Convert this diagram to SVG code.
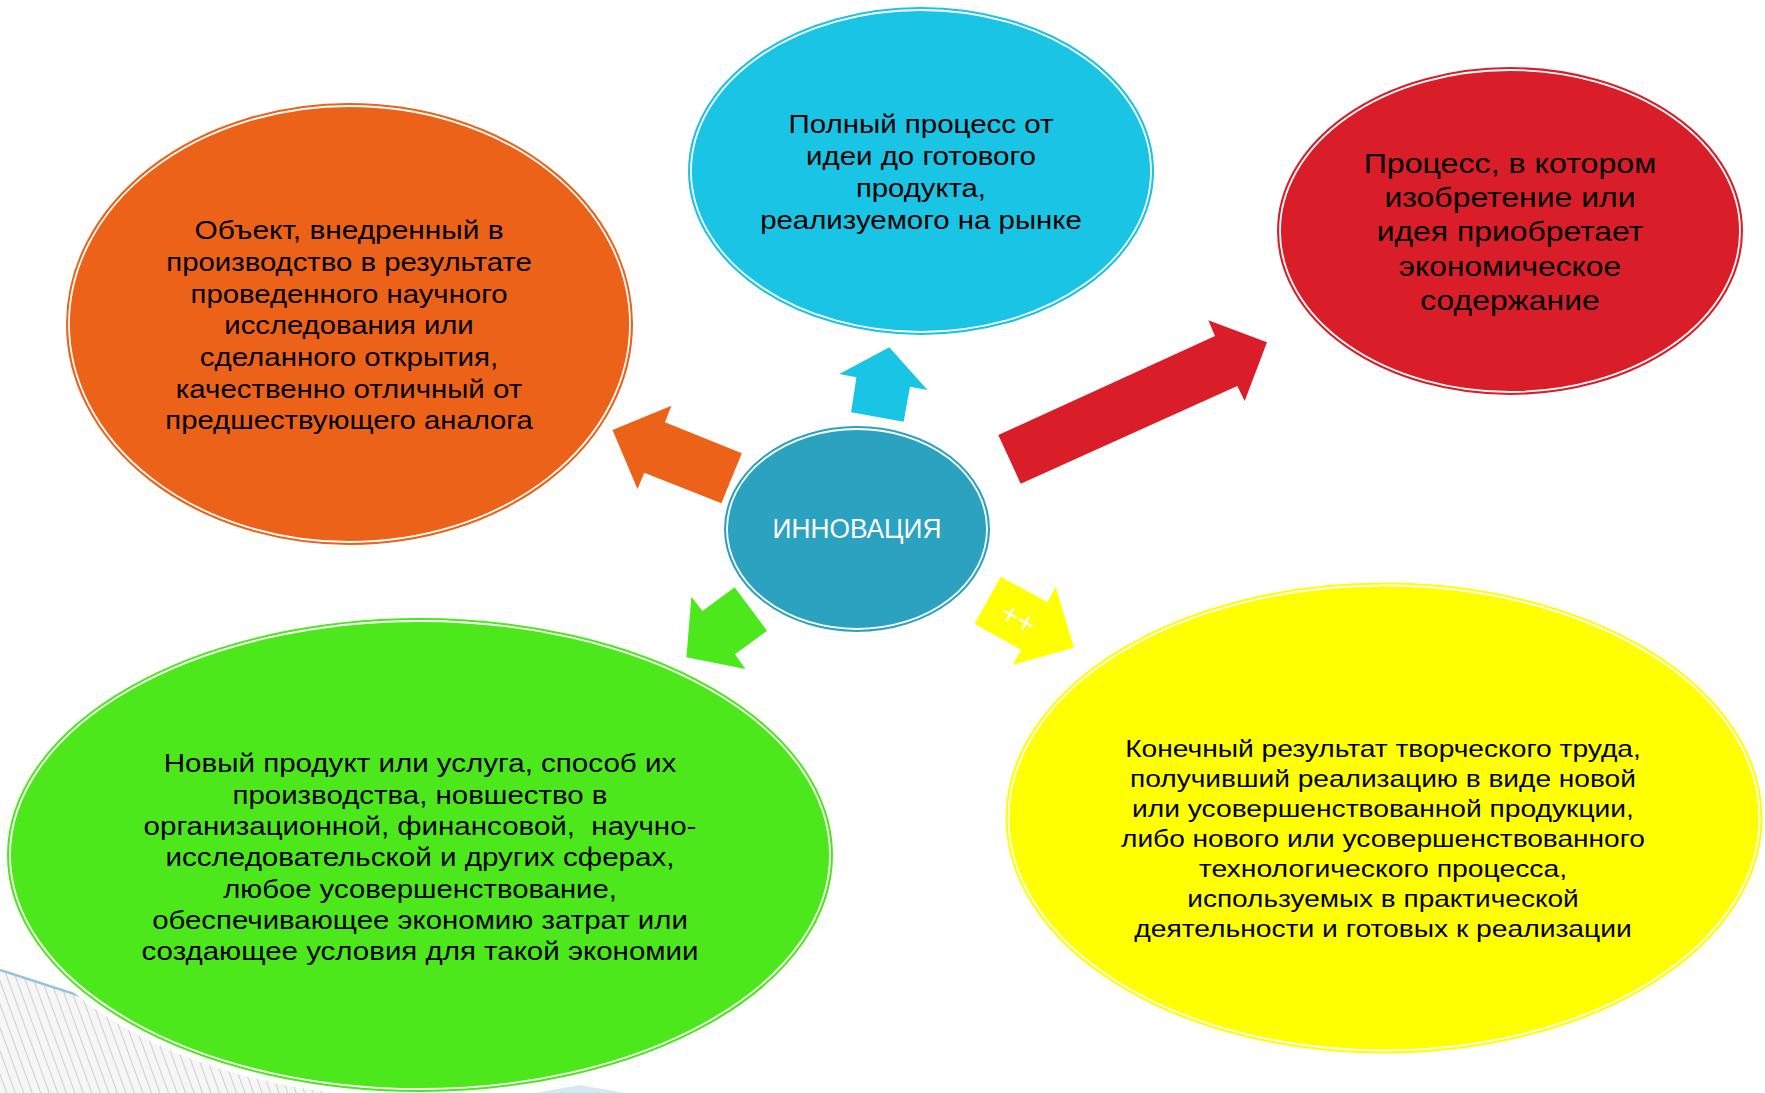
<svg xmlns="http://www.w3.org/2000/svg" width="1765" height="1093" viewBox="0 0 1765 1093">
  <defs>
    <pattern id="hatch" width="8" height="8" patternUnits="userSpaceOnUse" patternTransform="rotate(-20)">
      <rect width="8" height="8" fill="#f6f6f6"/>
      <line x1="0" y1="0" x2="0" y2="8" stroke="#b9b9b9" stroke-width="1.3"/>
    </pattern>
  </defs>
  <style>
    .lbl { font-family: "Liberation Sans", Arial, sans-serif; fill: #000; text-anchor: middle; }
    .ring { fill: none; stroke: #fff; stroke-width: 1.8; }
    .orange { fill: #EC6219; stroke: #EC6219; stroke-width: 6; }
    .sky { fill: #1AC4E4; stroke: #1AC4E4; stroke-width: 6; }
    .red { fill: #D91E29; stroke: #D91E29; stroke-width: 6; }
    .core { fill: #2BA2C0; stroke: #2BA2C0; stroke-width: 6; }
    .green { fill: #4DE81C; stroke: #4DE81C; stroke-width: 6; }
    .yellow { fill: #FFFF00; stroke: #FFFF00; stroke-width: 6; }
  </style>

  <rect width="1765" height="1093" fill="#ffffff"/>

  <!-- slide background ornaments -->
  <g id="background">
    <polygon points="0,970 380,1093 0,1093" fill="url(#hatch)"/>
    <line x1="0" y1="970" x2="380" y2="1093" stroke="#93C4DC" stroke-width="2.5"/>
    <polygon points="535,1093 580,1085 625,1093" fill="#D6E9F2"/>
  </g>

  <!-- arrows from the centre -->
  <g id="connectors">
    <polygon points="612.5,430 671.4,405.7 665,422.3 741.8,453.3 721.4,503.3 644.3,472.7 637.5,489" fill="#EC6219"/>
    <polygon points="889.3,347.3 839.3,374 856.4,377.3 851.1,412.3 903.6,421.7 910,386.7 927.5,390" fill="#1AC4E4"/>
    <polygon points="998.3,435 1020.7,483.7 1237.3,386 1244.7,401 1267,342.3 1208.3,320.3 1215,336" fill="#D91E29"/>
    <polygon points="686.4,657.3 691.4,596.7 702.5,611 734.6,587.3 767.1,630.7 735,654.3 745.4,669" fill="#4DE81C"/>
    <polygon points="1000.7,576.7 974.6,624 1021.4,650 1012.5,665 1073.9,647.7 1055.7,586.7 1047.5,602.3" fill="#FFFF00"/>
    <text x="1018.5" y="628.5" transform="rotate(29 1018.5 618)" font-family="Liberation Sans, Arial, sans-serif" font-size="30" fill="#ffffff" text-anchor="middle">++</text>
  </g>

  <g id="node-object">
    <ellipse class="orange" cx="349.5" cy="324" rx="280.5" ry="218"/>
    <ellipse class="ring" cx="349.5" cy="324" rx="280.5" ry="218"/>
    <g class="lbl" font-size="25">
      <text x="349" y="239.3" textLength="309" lengthAdjust="spacingAndGlyphs">Объект, внедренный в</text>
      <text x="349" y="271" textLength="365.5" lengthAdjust="spacingAndGlyphs">производство в результате</text>
      <text x="349" y="302.6" textLength="317" lengthAdjust="spacingAndGlyphs">проведенного научного</text>
      <text x="349" y="334.3" textLength="249.4" lengthAdjust="spacingAndGlyphs">исследования или</text>
      <text x="349" y="366" textLength="298.5" lengthAdjust="spacingAndGlyphs">сделанного открытия,</text>
      <text x="349" y="397.6" textLength="346.3" lengthAdjust="spacingAndGlyphs">качественно отличный от</text>
      <text x="349" y="429.3" textLength="367.4" lengthAdjust="spacingAndGlyphs">предшествующего аналога</text>
    </g>
  </g>

  <g id="node-process">
    <ellipse class="sky" cx="921" cy="171" rx="230" ry="161"/>
    <ellipse class="ring" cx="921" cy="171" rx="230" ry="161"/>
    <g class="lbl" font-size="25">
      <text x="921" y="132.5" textLength="265" lengthAdjust="spacingAndGlyphs">Полный процесс от</text>
      <text x="921" y="164.5" textLength="230" lengthAdjust="spacingAndGlyphs">идеи до готового</text>
      <text x="921" y="196.5" textLength="130" lengthAdjust="spacingAndGlyphs">продукта,</text>
      <text x="921" y="228.5" textLength="321.7" lengthAdjust="spacingAndGlyphs">реализуемого на рынке</text>
    </g>
  </g>

  <g id="node-economic">
    <ellipse class="red" cx="1510" cy="231" rx="230" ry="161"/>
    <ellipse class="ring" cx="1510" cy="231" rx="230" ry="161"/>
    <g class="lbl" font-size="28.5">
      <text x="1510" y="172.7" textLength="292.7" lengthAdjust="spacingAndGlyphs">Процесс, в котором</text>
      <text x="1510" y="207" textLength="251" lengthAdjust="spacingAndGlyphs">изобретение или</text>
      <text x="1510" y="241.3" textLength="266.7" lengthAdjust="spacingAndGlyphs">идея приобретает</text>
      <text x="1510" y="275.6" textLength="222.3" lengthAdjust="spacingAndGlyphs">экономическое</text>
      <text x="1510" y="310" textLength="179.3" lengthAdjust="spacingAndGlyphs">содержание</text>
    </g>
  </g>

  <g id="node-innovation">
    <ellipse class="core" cx="857" cy="529" rx="130" ry="100"/>
    <ellipse class="ring" cx="857" cy="529" rx="130" ry="100"/>
    <text x="857" y="538" font-family="Liberation Sans, Arial, sans-serif" font-size="27" fill="#ffffff" text-anchor="middle" textLength="169" lengthAdjust="spacingAndGlyphs">ИННОВАЦИЯ</text>
  </g>

  <g id="node-product">
    <ellipse cx="420" cy="855" rx="410" ry="234" fill="none" stroke="#ffffff" stroke-width="18"/>
    <ellipse class="green" cx="420" cy="855" rx="410" ry="234"/>
    <ellipse class="ring" cx="420" cy="855" rx="410" ry="234"/>
    <g class="lbl" font-size="25.5">
      <text x="420" y="772.3" textLength="512.6" lengthAdjust="spacingAndGlyphs">Новый продукт или услуга, способ их</text>
      <text x="420" y="803.6" textLength="375" lengthAdjust="spacingAndGlyphs">производства, новшество в</text>
      <text x="420" y="834.9" textLength="552.8" lengthAdjust="spacingAndGlyphs" style="white-space:pre">организационной, финансовой,  научно-</text>
      <text x="420" y="866.2" textLength="508.9" lengthAdjust="spacingAndGlyphs">исследовательской и других сферах,</text>
      <text x="420" y="897.5" textLength="393.7" lengthAdjust="spacingAndGlyphs">любое усовершенствование,</text>
      <text x="420" y="928.8" textLength="535.7" lengthAdjust="spacingAndGlyphs">обеспечивающее экономию затрат или</text>
      <text x="420" y="960.1" textLength="557" lengthAdjust="spacingAndGlyphs">создающее условия для такой экономии</text>
    </g>
  </g>

  <g id="node-result">
    <ellipse class="yellow" cx="1384" cy="818" rx="375.5" ry="232.5"/>
    <ellipse class="ring" cx="1384" cy="818" rx="375.5" ry="232.5"/>
    <g class="lbl" font-size="24">
      <text x="1383" y="756.7" textLength="515.7" lengthAdjust="spacingAndGlyphs">Конечный результат творческого труда,</text>
      <text x="1383" y="786.7" textLength="505.8" lengthAdjust="spacingAndGlyphs">получивший реализацию в виде новой</text>
      <text x="1383" y="816.7" textLength="501.8" lengthAdjust="spacingAndGlyphs">или усовершенствованной продукции,</text>
      <text x="1383" y="846.7" textLength="523.9" lengthAdjust="spacingAndGlyphs">либо нового или усовершенствованного</text>
      <text x="1383" y="876.7" textLength="368.3" lengthAdjust="spacingAndGlyphs">технологического процесса,</text>
      <text x="1383" y="906.7" textLength="391.3" lengthAdjust="spacingAndGlyphs">используемых в практической</text>
      <text x="1383" y="936.7" textLength="497.4" lengthAdjust="spacingAndGlyphs">деятельности и готовых к реализации</text>
    </g>
  </g>
</svg>
